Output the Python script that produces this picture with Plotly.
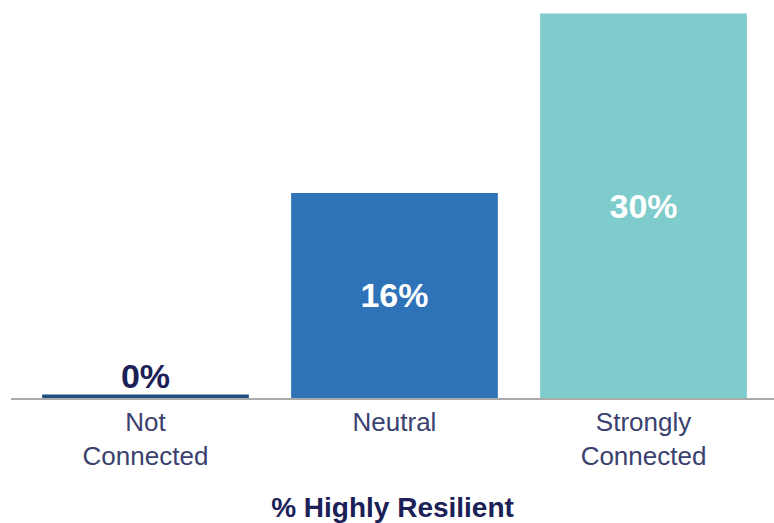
import plotly.graph_objects as go

# Share of respondents who are highly resilient, by connection level
categories = ["Not<br>Connected", "Neutral", "Strongly<br>Connected"]
values = [0, 16, 30]
labels = ["<b>0%</b>", "<b>16%</b>", "<b>30%</b>"]

bar_colors = ["#1F4E80", "#2E72B8", "#7ECCCC"]
text_colors = ["#1B2157", "#FFFFFF", "#FFFFFF"]
text_positions = ["outside", "inside", "inside"]

FONT = "Liberation Sans, Arial, sans-serif"

fig = go.Figure(
    go.Bar(
        x=categories,
        y=values,
        text=labels,
        textposition=text_positions,
        insidetextanchor="middle",
        textfont=dict(family=FONT, size=34, color=text_colors),
        marker=dict(color=bar_colors,
                    line=dict(color=bar_colors, width=[7, 0, 0])),
        cliponaxis=False,
        width=0.83,
    )
)

fig.update_layout(
    width=774,
    height=523,
    margin=dict(l=11, r=0, t=0, b=125),
    plot_bgcolor="white",
    paper_bgcolor="white",
    showlegend=False,
    xaxis=dict(
        type="category",
        range=[-0.54, 2.524],
        showline=True,
        linecolor="#AAAAAA",
        linewidth=2,
        ticks="",
        tickfont=dict(family=FONT, size=26, color="#3A416E"),
        title=dict(text="<b>% Highly Resilient</b>",
                   font=dict(family=FONT, size=28, color="#1B2157"),
                   standoff=30),
        fixedrange=True,
    ),
    yaxis=dict(
        range=[0, 31.05],
        visible=False,
        showgrid=False,
        zeroline=False,
        fixedrange=True,
    ),
)

fig.write_html("out.html")
